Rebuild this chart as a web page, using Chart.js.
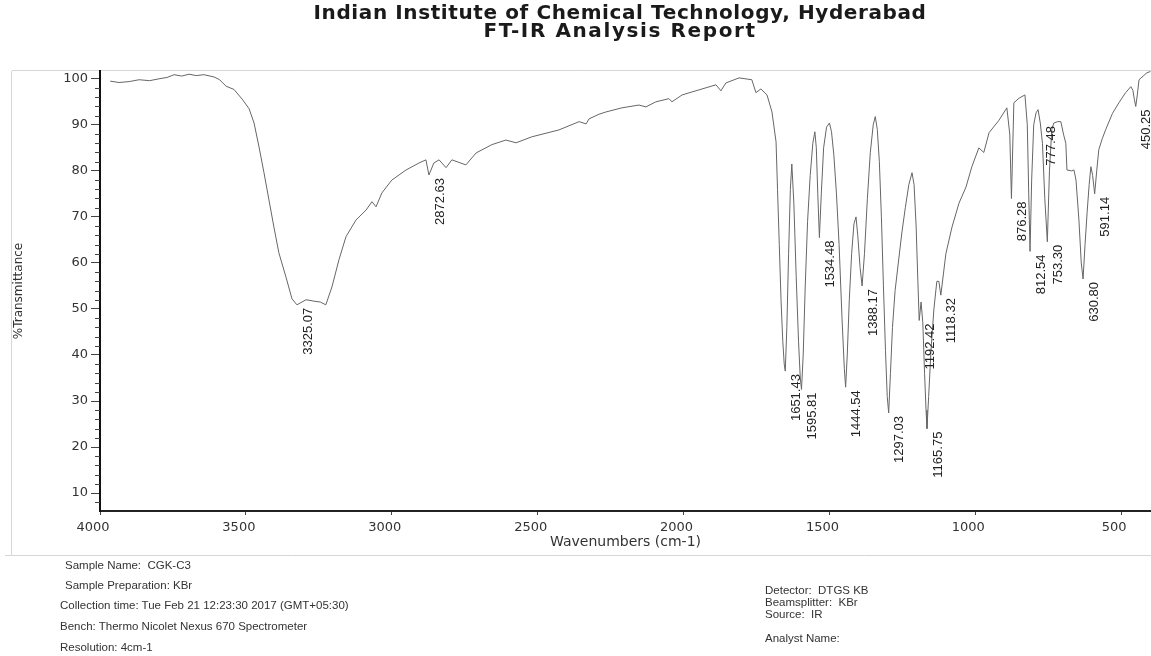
<!DOCTYPE html>
<html>
<head>
<meta charset="utf-8">
<title>FT-IR Analysis Report</title>
<script src="https://cdn.jsdelivr.net/npm/chart.js@4.4.1/dist/chart.umd.min.js"></script>
<style>
  html, body { margin: 0; padding: 0; background: #fff; }
  #wrap { position: relative; width: 1151px; height: 656px; overflow: hidden; }
  #chart { position: absolute; left: 0; top: 0; }
  .t { position: absolute; white-space: pre; }
  .title { font-family: "DejaVu Sans", sans-serif; font-weight: bold; font-size: 20px; line-height: 20px;
           left: 620px; transform: translateX(-50%); color: #1a1a1a; }
  .info { font-family: "Liberation Sans", Arial, sans-serif; font-size: 11.5px; line-height: 14px; color: #333; }
</style>
</head>
<body>
<div id="wrap">
  <canvas id="chart" width="1151" height="656"></canvas>
  <div class="t title" style="top:2px; letter-spacing:0.6px;">Indian Institute of Chemical Technology, Hyderabad</div>
  <div class="t title" style="top:20px; letter-spacing:1.6px;">FT-IR Analysis Report</div>

  <div class="t info" style="left:65px; top:558px;">Sample Name:  CGK-C3</div>
  <div class="t info" style="left:65px; top:578px;">Sample Preparation: KBr</div>
  <div class="t info" style="left:60px; top:598px;">Collection time: Tue Feb 21 12:23:30 2017 (GMT+05:30)</div>
  <div class="t info" style="left:60px; top:619px;">Bench: Thermo Nicolet Nexus 670 Spectrometer</div>
  <div class="t info" style="left:60px; top:640px;">Resolution: 4cm-1</div>

  <div class="t info" style="left:765px; top:584px; line-height:12px;">Detector:  DTGS KB</div>
  <div class="t info" style="left:765px; top:596px; line-height:12px;">Beamsplitter:  KBr</div>
  <div class="t info" style="left:765px; top:608px; line-height:12px;">Source:  IR</div>
  <div class="t info" style="left:765px; top:631px;">Analyst Name:</div>
</div>

<script>
// spectrum (wavenumber cm-1 / %T)
const ftirWn = [
  3965, 3935, 3900, 3866, 3830, 3798, 3770, 3746, 3720, 3695, 3670, 3644, 3609, 3590, 3568, 3541, 3513, 3489,
  3472, 3455, 3438, 3421, 3404, 3387, 3363, 3342, 3325.07, 3294, 3267, 3245, 3226, 3205, 3181, 3157, 3123, 3088,
  3068, 3054, 3034, 3000, 2951, 2907, 2883, 2872.63, 2856, 2838, 2814, 2794, 2746, 2711, 2657, 2609, 2574, 2520,
  2427, 2358, 2334, 2324, 2290, 2266, 2211, 2153, 2129, 2095, 2050, 2040, 2005, 1947, 1889, 1872, 1855, 1810,
  1766, 1752, 1735, 1714, 1697, 1683, 1678, 1672, 1666, 1660, 1655, 1651.43, 1646, 1640, 1634, 1629, 1622, 1614,
  1606, 1600, 1595.81, 1590, 1583, 1575, 1566, 1557, 1550, 1545, 1540, 1534.48, 1528, 1520, 1510, 1500, 1493, 1485,
  1476, 1467, 1457, 1449, 1444.54, 1439, 1432, 1424, 1416, 1409, 1403, 1395, 1388.17, 1380, 1370, 1360, 1350, 1343,
  1336, 1329, 1322, 1315, 1308, 1302, 1297.03, 1291, 1284, 1275, 1264, 1252, 1240, 1228, 1217, 1210, 1203, 1197,
  1192.42, 1186, 1180, 1174, 1169, 1165.75, 1160, 1152, 1142, 1132, 1125, 1118.32, 1101, 1080, 1056, 1032, 1012,
  988, 971, 953, 919, 892, 882, 876.28, 868, 850, 830, 822, 817, 812.54, 807, 800, 792, 785, 777.48, 770, 762,
  753.30, 746, 738, 731, 718, 707, 698, 690, 686, 670, 662, 655, 645, 637, 630.80, 624, 617, 610, 604, 598, 591.14,
  584, 577, 565, 553, 530, 508, 485, 467, 460, 455, 450.25, 445, 439, 425, 412, 400
];
const ftirT = [
  99.5, 99.2, 99.4, 99.8, 99.6, 100.0, 100.3, 100.9, 100.6, 101.0, 100.7, 100.9, 100.4, 99.8, 98.4, 97.7, 95.6, 93.5,
  90.4, 85.2, 79.6, 73.7, 67.8, 62.2, 57.0, 52.2, 50.9, 52.0, 51.7, 51.5, 50.9, 54.8, 60.7, 65.7, 69.3, 71.5,
  73.3, 72.2, 75.2, 78.0, 80.2, 81.7, 82.4, 79.1, 81.7, 82.4, 80.7, 82.4, 81.3, 83.9, 85.7, 86.7, 86.1, 87.4,
  88.9, 90.7, 90.2, 91.3, 92.3, 92.8, 93.7, 94.3, 93.9, 95.0, 95.7, 95.0, 96.5, 97.6, 98.7, 97.4, 99.1, 100.2,
  99.8, 97.0, 97.8, 96.5, 92.8, 86.3, 76.0, 64.0, 52.0, 43.0, 38.0, 36.5, 46.0, 62.0, 76.0, 81.5, 73.0, 57.0,
  43.0, 35.0, 32.5, 40.0, 55.0, 69.0, 79.0, 86.0, 88.5, 85.0, 75.0, 65.5, 75.0, 85.0, 89.5, 90.4, 88.5, 83.5,
  75.0, 64.0, 48.0, 37.0, 33.0, 40.0, 52.0, 62.0, 68.5, 70.0, 66.0, 59.0, 55.0, 62.0, 74.0, 84.0, 90.0, 91.8,
  89.0, 82.0, 70.0, 55.0, 41.0, 31.0, 27.4, 36.0, 46.0, 54.0, 60.0, 66.5, 72.0, 77.0, 79.6, 77.0, 68.0, 56.0,
  47.5, 51.5, 47.0, 36.0, 28.0, 24.0, 31.0, 41.0, 50.0, 56.0, 56.0, 53.0, 62.0, 67.8, 73.0, 76.5, 80.9,
  85.0, 84.0, 88.3, 91.0, 93.7, 88.0, 74.0, 94.8, 95.8, 96.5, 90.0, 75.0, 62.5, 78.0, 90.0, 92.6, 93.3, 90.4, 86.0, 74.0,
  64.6, 80.0, 89.0, 90.4, 90.7, 90.7, 88.0, 86.0, 80.2, 80.0, 80.2, 78.0, 69.3, 60.0, 56.5, 64.0, 70.9, 77.0, 80.9, 79.0, 75.0,
  80.0, 84.6, 87.0, 89.0, 92.5, 94.8, 97.0, 98.3, 97.5, 95.5, 94.0, 96.5, 99.8, 100.6, 101.3, 101.6
];

// labelled peaks
const peakWn = [3325.07, 2872.63, 1651.43, 1595.81, 1534.48, 1444.54, 1388.17, 1297.03, 1192.42,
                1165.75, 1118.32, 876.28, 812.54, 777.48, 753.30, 630.80, 591.14, 450.25];

// axis ticks
const xTicks = [4000, 3500, 3000, 2500, 2000, 1500, 1000, 500];
const yTicks = [10, 20, 30, 40, 50, 60, 70, 80, 90, 100];
const yMinorStep = 2;

// peak labels, minor ticks and the faint report frame
const reportPlugin = {
  id: 'report',
  beforeDraw(chart) {
    const c = chart.ctx;
    const area = chart.chartArea;
    c.save();
    c.strokeStyle = '#d6d6d6';
    c.lineWidth = 1;
    c.beginPath();
    c.moveTo(12, area.top - 0.5); c.lineTo(chart.width, area.top - 0.5);
    c.moveTo(5, 555.5); c.lineTo(chart.width, 555.5);
    c.moveTo(11.5, area.top); c.lineTo(11.5, 555);
    c.stroke();
    c.restore();
  },
  afterDraw(chart) {
    const c = chart.ctx;
    const xs = chart.scales.x;
    const ys = chart.scales.y;
    c.save();
    // minor ticks on %T axis
    c.strokeStyle = '#444';
    c.lineWidth = 1;
    c.beginPath();
    for (let v = yTicks[0] - yMinorStep; v <= yTicks[yTicks.length - 1]; v += yMinorStep) {
      if (v % 10 === 0 || v < ys.min) continue;
      const py = Math.round(ys.getPixelForValue(v)) + 0.5;
      c.moveTo(ys.right - 5, py);
      c.lineTo(ys.right, py);
    }
    c.stroke();

    // peak labels, rotated, ending at the peak tip
    c.fillStyle = '#222';
    c.font = '13px "Liberation Sans", Arial, sans-serif';
    c.textAlign = 'right';
    c.textBaseline = 'middle';
    peakWn.forEach(w => {
      const i = ftirWn.indexOf(w);
      if (i < 0) return;
      const px = xs.getPixelForValue(w) + 11;
      const py = ys.getPixelForValue(ftirT[i]) + 3;
      c.save();
      c.translate(px, py);
      c.rotate(-Math.PI / 2);
      c.fillText(w.toFixed(2), 0, 0);
      c.restore();
    });
    c.restore();
  }
};

const ctx = document.getElementById('chart').getContext('2d');
const chart = new Chart(ctx, {
  type: 'line',
  data: {
    datasets: [{
      label: '%Transmittance',
      data: ftirWn.map((w, i) => ({ x: w, y: ftirT[i] })),
      borderColor: '#666',
      borderWidth: 1,
      pointRadius: 0,
      tension: 0,
      fill: false
    }]
  },
  options: {
    responsive: false,
    animation: false,
    layout: { padding: { top: 71, left: 0, right: 0, bottom: 105 } },
    plugins: {
      legend: { display: false },
      tooltip: { enabled: false }
    },
    scales: {
      x: {
        type: 'linear',
        reverse: true,
        min: 398,
        max: 4000,
        afterBuildTicks: s => { s.ticks = xTicks.map(v => ({ value: v })); },
        afterFit: s => { s.height = 40; },
        grid: { drawOnChartArea: false, drawTicks: true, tickLength: 4, color: '#444' },
        border: { display: true, color: '#222', width: 2 },
        ticks: {
          font: { family: 'DejaVu Sans', size: 13 },
          color: '#333',
          padding: 5,
          labelOffset: -7,
          maxRotation: 0,
          autoSkip: false,
          callback: v => String(v)
        },
        title: {
          display: true,
          text: 'Wavenumbers (cm-1)',
          font: { family: 'DejaVu Sans', size: 14 },
          color: '#333',
          padding: { top: 0, bottom: 0 }
        }
      },
      y: {
        min: 6.1,
        max: 101.7,
        afterBuildTicks: s => { s.ticks = yTicks.map(v => ({ value: v })); },
        afterFit: s => { s.width = 100; },
        grid: { drawOnChartArea: false, drawTicks: true, tickLength: 9, color: '#444' },
        border: { display: true, color: '#111', width: 2 },
        ticks: {
          font: { family: 'DejaVu Sans', size: 13 },
          color: '#333',
          padding: 3,
          callback: v => String(v)
        },
        title: {
          display: true,
          text: '%Transmittance',
          font: { family: 'DejaVu Sans', size: 12 },
          color: '#333',
          padding: { top: 12, bottom: 0 }
        }
      }
    }
  },
  plugins: [reportPlugin]
});
</script>
</body>
</html>
